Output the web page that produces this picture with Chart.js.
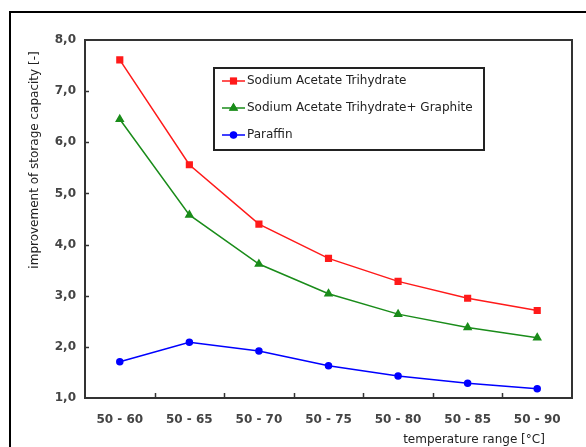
<!DOCTYPE html>
<html>
<head>
<meta charset="utf-8">
<script src="https://cdn.jsdelivr.net/npm/chart.js@4"></script>
<style>
html, body { margin: 0; padding: 0; background: #fff; }
#wrap { width: 586px; height: 447px; }
</style>
</head>
<body>
<div id="wrap"><canvas id="chart" width="586" height="447"></canvas></div>
<script>
const categories = ["50 - 60", "50 - 65", "50 - 70", "50 - 75", "50 - 80", "50 - 85", "50 - 90"];
const sodiumAcetate = [7.61, 5.56, 4.40, 3.73, 3.28, 2.95, 2.71];
const sodiumAcetateGraphite = [6.45, 4.58, 3.62, 3.04, 2.64, 2.38, 2.18];
const paraffin = [1.71, 2.09, 1.92, 1.63, 1.43, 1.29, 1.18];
const yTicks = [1, 2, 3, 4, 5, 6, 7, 8];
const yTitle = "improvement of storage capacity [-]";
const xTitle = "temperature range [°C]";

const FONT = "'DejaVu Sans', Verdana, sans-serif";

// frame, inner ticks, legend and axis titles
const decor = {
  id: 'decor',
  afterDraw(chart) {
    const ctx = chart.ctx;
    const a = chart.chartArea;
    const x = chart.scales.x, y = chart.scales.y;
    ctx.save();

    // outer frame
    ctx.strokeStyle = '#000';
    ctx.lineWidth = 2;
    ctx.strokeRect(10, 12, 700, 600);

    // plot border
    ctx.strokeStyle = '#333';
    ctx.lineWidth = 2;
    ctx.strokeRect(a.left, a.top, a.right - a.left, a.bottom - a.top);

    // inward ticks
    ctx.lineWidth = 1.5;
    yTicks.slice(1, -1).forEach(v => {
      const py = Math.round(y.getPixelForValue(v)) + 0.5;
      ctx.beginPath(); ctx.moveTo(a.left, py); ctx.lineTo(a.left + 4, py); ctx.stroke();
    });
    for (let i = 1; i < categories.length; i++) {
      const px = Math.round((x.getPixelForTick(i - 1) + x.getPixelForTick(i)) / 2) + 0.5;
      ctx.beginPath(); ctx.moveTo(px, a.bottom); ctx.lineTo(px, a.bottom - 5); ctx.stroke();
    }

    // legend
    const lx = a.left + 129, ly = a.top + 28, lw = 270, lh = 82;
    ctx.fillStyle = '#fff';
    ctx.fillRect(lx, ly, lw, lh);
    ctx.strokeStyle = '#222';
    ctx.lineWidth = 2;
    ctx.strokeRect(lx, ly, lw, lh);
    ctx.font = '12px ' + FONT;
    ctx.textBaseline = 'middle';
    chart.data.datasets.forEach((ds, i) => {
      const ry = ly + 13 + i * 27;
      ctx.strokeStyle = ds.borderColor;
      ctx.lineWidth = 1.5;
      ctx.beginPath(); ctx.moveTo(lx + 8, ry); ctx.lineTo(lx + 31, ry); ctx.stroke();
      Chart.helpers.drawPoint(ctx, {
        pointStyle: ds.pointStyle, radius: ds.pointRadius, borderWidth: 1
      }, lx + 19.5, ry);
      ctx.fillStyle = ds.backgroundColor;
      ctx.strokeStyle = ds.borderColor;
      ctx.beginPath();
      Chart.helpers.drawPoint(ctx, { pointStyle: ds.pointStyle, radius: ds.pointRadius - 0.5, borderWidth: 1 }, lx + 19.5, ry);
      ctx.fillStyle = '#222';
      ctx.textAlign = 'left';
      ctx.fillText(ds.label, lx + 33, ry);
    });

    // axis titles
    ctx.fillStyle = '#222';
    ctx.font = '12px ' + FONT;
    ctx.textAlign = 'center';
    ctx.textBaseline = 'middle';
    ctx.fillText(xTitle, 474, 440);
    ctx.translate(35, 160);
    ctx.rotate(-Math.PI / 2);
    ctx.fillText(yTitle, 0, 0);

    ctx.restore();
  }
};

new Chart(document.getElementById('chart'), {
  type: 'line',
  data: {
    labels: categories,
    datasets: [
      {
        label: 'Sodium Acetate Trihydrate',
        data: sodiumAcetate,
        borderColor: '#ff1a1a',
        backgroundColor: '#ff1a1a',
        pointStyle: 'rect',
        pointRadius: 4,
        borderWidth: 1.5
      },
      {
        label: 'Sodium Acetate Trihydrate+ Graphite',
        data: sodiumAcetateGraphite,
        borderColor: '#1a8c1a',
        backgroundColor: '#1a8c1a',
        pointStyle: 'triangle',
        pointRadius: 4,
        borderWidth: 1.5
      },
      {
        label: 'Paraffin',
        data: paraffin,
        borderColor: '#0000ff',
        backgroundColor: '#0000ff',
        pointStyle: 'circle',
        pointRadius: 3,
        borderWidth: 1.5
      }
    ]
  },
  options: {
    responsive: false,
    animation: false,
    layout: { padding: { left: 0, right: 14, top: 40, bottom: 0 } },
    plugins: {
      legend: { display: false },
      tooltip: { enabled: false }
    },
    scales: {
      x: {
        offset: true,
        grid: { display: false, drawTicks: false },
        border: { display: false },
        ticks: {
          padding: 15,
          color: '#444',
          font: { family: FONT, size: 12, weight: 'bold' },
          maxRotation: 0
        },
        afterFit(scale) { scale.height = 49; }
      },
      y: {
        min: 1,
        max: 8,
        grid: { display: false, drawTicks: false },
        border: { display: false },
        afterBuildTicks(scale) { scale.ticks = yTicks.map(v => ({ value: v })); },
        ticks: {
          padding: 9,
          color: '#444',
          font: { family: FONT, size: 12, weight: 'bold' },
          callback: v => v.toFixed(1).replace('.', ',')
        },
        afterFit(scale) { scale.width = 85; }
      }
    }
  },
  plugins: [decor]
});
</script>
</body>
</html>
